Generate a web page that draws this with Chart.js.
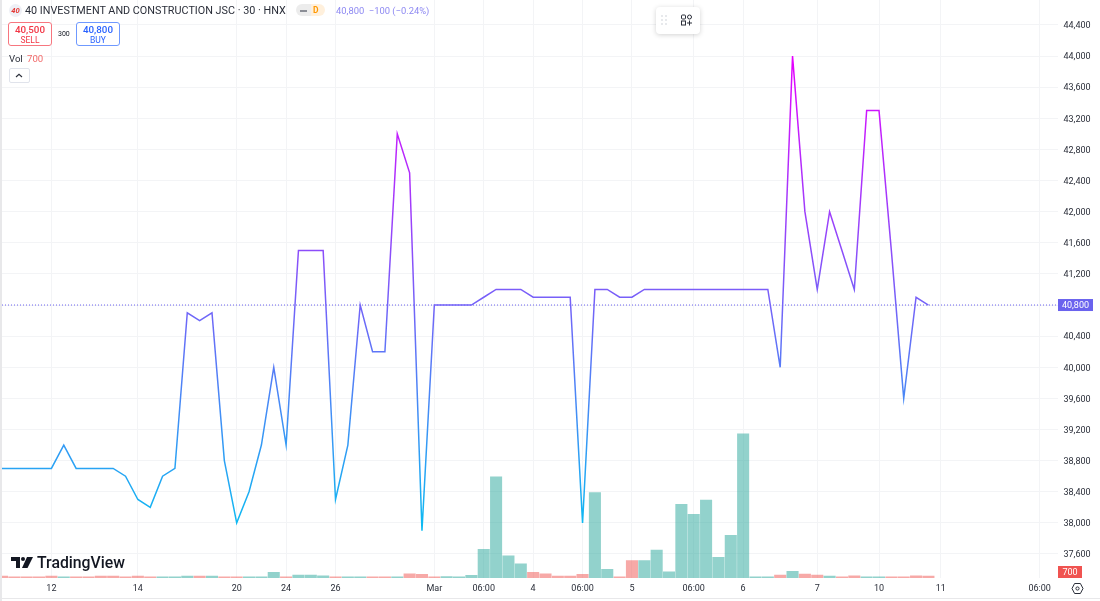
<!DOCTYPE html>
<html>
<head>
<meta charset="utf-8">
<title>40 Investment and Construction JSC</title>
<script src="https://cdn.jsdelivr.net/npm/chart.js@4"></script>
<style>
html, body { margin: 0; padding: 0; background: #fff; overflow: hidden; }
#wrap { position: relative; width: 1100px; height: 601px; font-family: Roboto, sans-serif; color: #131722; }
#wrap canvas { position: absolute; left: 0; top: 0; }
.ov { position: absolute; white-space: nowrap; }
.tradebox { position: absolute; top: 22px; width: 44px; height: 24px; box-sizing: border-box; border-radius: 3px; background: #fff; text-align: center; font-size: 9.8px; line-height: 11px; padding-top: 1px; }
.tradebox small { display: block; font-size: 8.5px; line-height: 10px; }
</style>
</head>
<body>
<div id="wrap">
  <canvas id="chart" width="1100" height="601"></canvas>

  <div class="ov" style="left:0;top:0;width:2px;height:601px;background:#e8e8ea"></div>
  <div class="ov" style="left:0;top:598px;width:1100px;height:1px;background:#e8e8ea"></div>

  <svg class="ov" style="left:9px;top:4px" width="13" height="13"><circle cx="6.5" cy="6.5" r="6.5" fill="#eef0f6"/><text x="6.5" y="9.2" font-size="7.5" font-weight="700" font-style="italic" text-anchor="middle" fill="#e53935" font-family="Roboto">40</text></svg>
  <div class="ov" style="left:25px;top:4px;font-size:10.8px;line-height:13px;color:#2a2e39">40 INVESTMENT AND CONSTRUCTION JSC · 30 · HNX</div>
  <div class="ov" style="left:296px;top:4px;width:29px;height:12px;border-radius:6px;background:linear-gradient(90deg,#ececec 50%,#fff0dc 50%)"></div>
  <div class="ov" style="left:300px;top:9.5px;width:7px;height:2px;background:#8b8e96"></div>
  <div class="ov" style="left:313px;top:4px;font-size:8.5px;line-height:12px;font-weight:700;color:#ff9800">D</div>
  <div class="ov" style="left:336px;top:4px;font-size:9.4px;line-height:13px;color:#8d88f2">40,800&nbsp;&nbsp;−100 (−0.24%)</div>

  <div class="tradebox" style="left:8px;border:1px solid #f7767f;color:#f23645"><b style="font-weight:500">40,500</b><small>SELL</small></div>
  <div class="ov" style="left:58px;top:29px;font-size:7px;line-height:10px">300</div>
  <div class="tradebox" style="left:76px;border:1px solid #6f99ff;color:#2962ff"><b style="font-weight:500">40,800</b><small>BUY</small></div>

  <div class="ov" style="left:9px;top:52px;font-size:9.6px;line-height:13px;color:#2a2e39">Vol</div>
  <div class="ov" style="left:27px;top:52px;font-size:9.6px;line-height:13px;color:#f26a6a">700</div>
  <div class="ov" style="left:9px;top:68px;width:21px;height:15px;box-sizing:border-box;border:1px solid #e0e3eb;border-radius:2px;background:#fff"></div>
  <svg class="ov" style="left:15px;top:73px" width="8" height="5"><path d="M1 4 L4 1.3 L7 4" fill="none" stroke="#2a2e39" stroke-width="1.1"/></svg>

  <div class="ov" style="left:656px;top:7px;width:44px;height:27px;border-radius:4px;background:#fff;box-shadow:0 1px 5px rgba(0,0,0,.18)"></div>
  <svg class="ov" style="left:660px;top:13px" width="34" height="16" fill="none">
    <g fill="#c9ccd3"><circle cx="2" cy="3" r=".8"/><circle cx="6" cy="3" r=".8"/><circle cx="2" cy="7" r=".8"/><circle cx="6" cy="7" r=".8"/><circle cx="2" cy="11" r=".8"/><circle cx="6" cy="11" r=".8"/></g>
    <g stroke="#2a2e39" stroke-width="1"><rect x="21.5" y="2" width="4" height="4" rx="1"/><rect x="27.5" y="2" width="4" height="4" rx="2"/><rect x="21.5" y="8" width="4" height="4"/><path d="M27 10 H32 M29.5 7.5 V12.5"/></g>
  </svg>

  <svg class="ov" style="left:11px;top:557px" width="22" height="12"><path d="M0 0 H9 V11 H5 V4 H0 Z" fill="#131722"/><circle cx="12" cy="2" r="2" fill="#131722"/><path d="M16 0 H22 L16.5 11 H11 Z" fill="#131722"/></svg>
  <div class="ov" style="left:37px;top:553px;font-size:15.8px;line-height:19px;font-weight:500;color:#131722">TradingView</div>

  <svg class="ov" style="left:1071px;top:582px" width="13" height="13" fill="none" stroke="#2a2e39"><path d="M3.6 1.5 H9.4 L12 6.5 L9.4 11.5 H3.6 L1 6.5 Z" stroke-width="1"/><circle cx="6.5" cy="6.5" r="1.6" stroke-width="1"/></svg>
</div>

<script>
// one slot per 30 minute bar
const closePrice = [38700, 38700, 38700, 38700, 38700, 39000, 38700, 38700, 38700, 38700,
    38600, 38300, 38200, 38600, 38700, 40700, 40600, 40700, 38800, 38000,
    38400, 39000, 40000, 39000, 41500, 41500, 41500, 38300, 39000, 40800,
    40200, 40200, 43000, 42500, 37900, 40800, 40800, 40800, 40800, 40900,
    41000, 41000, 41000, 40900, 40900, 40900, 40900, 38000, 41000, 41000,
    40900, 40900, 41000, 41000, 41000, 41000, 41000, 41000, 41000, 41000,
    41000, 41000, 41000, 40000, 44000, 42000, 41000, 42000, 41500, 41000,
    43300, 43300, 41500, 39600, 40900, 40800];

const volumeUp = [null, null, null, null, null, 400, null, null, null, null,
    null, null, null, 400, 400, 700, null, 700, null, null,
    400, 400, 2000, null, 1000, 1000, 800, null, 400, 400,
    null, null, 400, null, null, null, 500, 400, 900, 10000,
    35400, 7800, 5000, null, null, null, null, null, 29900, 3000,
    null, null, 6100, 9800, 2200, 25800, 22300, 27300, 7200, 14900,
    50500, 400, 400, null, 2300, null, null, 700, null, null,
    400, 400, null, null, null, null];

const volumeDown = [700, 400, 400, 400, 700, null, 400, 400, 700, 700,
    400, 700, 400, null, null, null, 700, null, 400, 400,
    null, null, null, 400, null, null, null, 400, null, null,
    400, 400, null, 1500, 1300, 400, null, null, null, null,
    null, null, null, 2000, 1500, 700, 700, 1300, null, null,
    400, 6100, null, null, null, null, null, null, null, null,
    null, null, null, 1000, null, 1400, 1000, null, 400, 800,
    null, null, 400, 400, 800, 700];

const timeTicks = [4, 11, 19, 23, 27, 35, 39, 43, 47, 51, 56, 60, 66, 71, 76, 84];
const timeLabels = ['12', '14', '20', '24', '26', 'Mar', '06:00', '4', '06:00', '5', '06:00', '6', '7', '10', '11', '06:00'];

const lastPrice = 40800;
const lastVolume = 700;
const lastSlot = 85.45;

const inSlots = values => values.map((v, i) => ({ x: i, y: v }));

function lineGradient(context) {
    const chart = context.chart;
    if (!chart.chartArea) {
        return '#6a62ee';
    }
    const y = chart.scales.y;
    const g = chart.ctx.createLinearGradient(0, y.getPixelForValue(44000), 0, y.getPixelForValue(37900));
    g.addColorStop(0, '#e600ff');
    g.addColorStop(1, '#0cbcf2');
    return g;
}

// the two value tags on the right
const scaleTags = {
    id: 'scaleTags',
    afterDraw(chart) {
        const { ctx, scales } = chart;
        const tag = (py, height, width, text, color) => {
            ctx.save();
            ctx.fillStyle = color;
            ctx.fillRect(1058, py - height / 2, width, height);
            ctx.fillStyle = '#fff';
            ctx.font = '9px Roboto';
            ctx.textAlign = 'center';
            ctx.textBaseline = 'middle';
            ctx.fillText(text, 1058 + width / 2, py + 0.5);
            ctx.restore();
        };
        tag(scales.y.getPixelForValue(lastPrice), 12, 35, lastPrice.toLocaleString('en-US'), '#6a62ee');
        tag(scales.vol.getPixelForValue(0) - 6, 12, 24, String(lastVolume), '#f05350');
    }
};

new Chart(document.getElementById('chart'), {
    plugins: [scaleTags],
    data: {
        datasets: [{
            type: 'bar',
            label: 'Volume up',
            data: inSlots(volumeUp),
            yAxisID: 'vol',
            backgroundColor: 'rgba(38, 166, 154, 0.5)',
            barThickness: 11.4,
            grouped: false,
            order: 3
        }, {
            type: 'bar',
            label: 'Volume down',
            data: inSlots(volumeDown),
            yAxisID: 'vol',
            backgroundColor: 'rgba(239, 83, 80, 0.5)',
            barThickness: 11.4,
            grouped: false,
            order: 3
        }, {
            type: 'line',
            label: 'Last price',
            data: [{ x: 0, y: lastPrice }, { x: lastSlot, y: lastPrice }],
            yAxisID: 'y',
            borderColor: '#6a62ee',
            borderWidth: 1,
            borderDash: [1, 2],
            pointRadius: 0,
            order: 2
        }, {
            type: 'line',
            label: 'Close',
            data: inSlots(closePrice),
            yAxisID: 'y',
            borderColor: lineGradient,
            borderWidth: 1.5,
            borderJoinStyle: 'miter',
            tension: 0,
            pointRadius: 0,
            order: 1
        }]
    },
    options: {
        responsive: false,
        animation: false,
        layout: { padding: { left: 2 } },
        plugins: {
            legend: { display: false },
            tooltip: { enabled: false }
        },
        scales: {
            x: {
                type: 'linear',
                offset: false,
                min: 0,
                max: lastSlot,
                border: { display: false },
                grid: { color: '#f3f4f6', drawTicks: false, offset: false },
                afterBuildTicks: axis => {
                    axis.ticks = timeTicks.map(v => ({ value: v }));
                },
                afterFit: axis => {
                    axis.height = 23;
                    axis.paddingLeft = 0;
                    axis.paddingRight = 0;
                },
                ticks: {
                    autoSkip: false,
                    maxRotation: 0,
                    padding: 5,
                    color: '#2a2e39',
                    font: { family: 'Roboto', size: 9 },
                    callback: value => timeLabels[timeTicks.indexOf(value)]
                }
            },
            y: {
                position: 'right',
                min: 37291,
                max: 44721,
                border: { display: false },
                grid: { color: '#f3f4f6', drawTicks: false },
                afterBuildTicks: axis => {
                    const ticks = [];
                    for (let v = 37600; v <= 44400; v += 400) {
                        ticks.push({ value: v });
                    }
                    axis.ticks = ticks;
                },
                afterFit: axis => {
                    axis.width = 42.5;
                    axis.paddingTop = 0;
                    axis.paddingBottom = 0;
                },
                ticks: {
                    padding: 6,
                    labelOffset: 1,
                    color: '#2a2e39',
                    font: { family: 'Roboto', size: 9 },
                    callback: value => value.toLocaleString('en-US')
                }
            },
            vol: {
                display: false,
                min: 0,
                max: 202300
            }
        }
    }
});
</script>
</body>
</html>
